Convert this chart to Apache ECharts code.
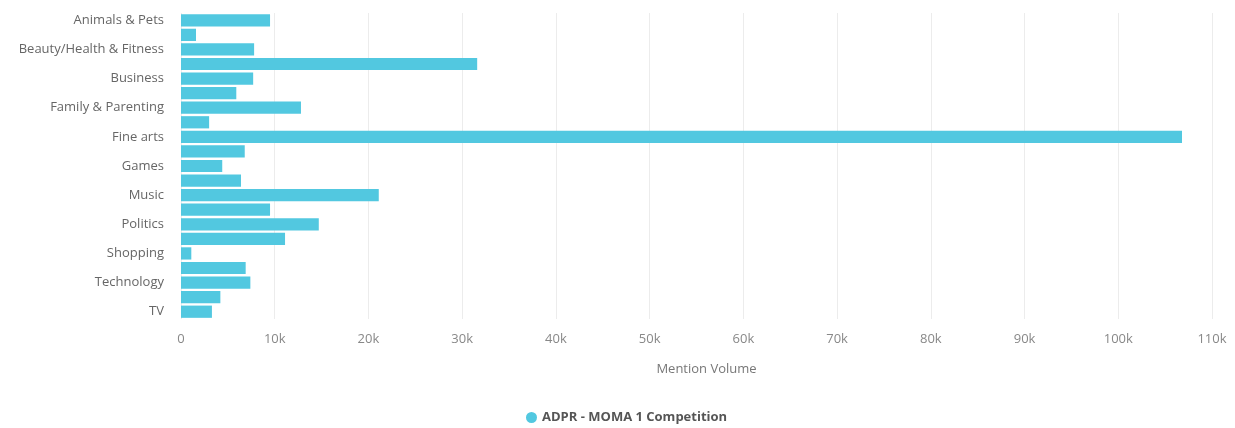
<!DOCTYPE html>
<html>
<head>
<meta charset="utf-8">
<script src="https://cdn.jsdelivr.net/npm/echarts@6/dist/echarts.min.js"></script>
<style>
  html, body { margin: 0; padding: 0; background: #ffffff; }
  #chart { width: 1235px; height: 428px; }
</style>
</head>
<body>
<div id="chart"></div>
<script>
// Topic categories (every other one is labelled on the axis)
const categories = [
  'Animals & Pets', 'Arts & Culture', 'Beauty/Health & Fitness', 'Books & Literature',
  'Business', 'Careers', 'Family & Parenting', 'Fashion', 'Fine arts', 'Food & Drink',
  'Games', 'Movies', 'Music', 'News', 'Politics', 'Science', 'Shopping', 'Sports',
  'Technology', 'Travel', 'TV'
];

// Mention volume per category
const mentionVolume = [
  9500, 1600, 7800, 31600, 7700, 5900, 12800, 3000, 106800, 6800,
  4400, 6400, 21100, 9500, 14700, 11100, 1100, 6900, 7400, 4200, 3300
];

const seriesName = 'ADPR - MOMA 1 Competition';
const axisName = 'Mention Volume';

const chart = echarts.init(document.getElementById('chart'));
chart.setOption({
  animation: false,
  textStyle: { fontFamily: '"Open Sans", sans-serif' },
  grid: { left: 181, right: 23, top: 13, height: 306, containLabel: false },
  legend: {
    bottom: -1,
    left: 521,
    icon: 'circle',
    itemWidth: 11,
    itemHeight: 11,
    itemGap: 10,
    textStyle: { color: '#555', fontSize: 13, fontWeight: 'bold', fontFamily: '"Open Sans", sans-serif' },
    data: [seriesName]
  },
  xAxis: {
    type: 'value',
    min: 0,
    max: 110000,
    interval: 10000,
    name: axisName,
    nameLocation: 'middle',
    nameGap: 44,
    nameTextStyle: { color: '#777', fontSize: 13, padding: [0, 0, 0, 20], fontFamily: '"Open Sans", sans-serif' },
    axisLine: { show: false },
    axisTick: { show: false },
    axisLabel: {
      color: '#888',
      fontSize: 13,
      margin: 14,
      fontFamily: '"Open Sans", sans-serif',
      formatter: v => v === 0 ? '0' : (v / 1000) + 'k'
    },
    splitLine: { show: true, lineStyle: { color: '#ececec', width: 1 } }
  },
  yAxis: {
    type: 'category',
    inverse: true,
    data: categories,
    axisLine: { show: false },
    axisTick: { show: false },
    axisLabel: { interval: 1, color: '#666', fontSize: 13, margin: 17, fontFamily: '"Open Sans", sans-serif' }
  },
  series: [{
    name: seriesName,
    type: 'bar',
    data: mentionVolume,
    barCategoryGap: '16%',
    itemStyle: { color: '#52c8e0' }
  }]
});
</script>
</body>
</html>
